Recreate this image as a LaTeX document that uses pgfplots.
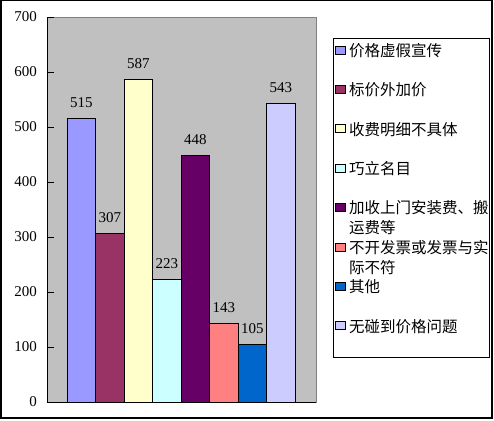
\documentclass[border=0pt]{standalone}
\usepackage{fontspec}
\setmainfont{Liberation Serif}
\newfontfamily\cjk{Noto Sans CJK SC}
\usepackage{pgfplots}
\pgfplotsset{compat=1.18}

\definecolor{plotgray}{HTML}{C0C0C0}
\definecolor{plotborder}{HTML}{808080}
\definecolor{c1}{HTML}{9999FF}
\definecolor{c2}{HTML}{993366}
\definecolor{c3}{HTML}{FFFFCC}
\definecolor{c4}{HTML}{CCFFFF}
\definecolor{c5}{HTML}{660066}
\definecolor{c6}{HTML}{FF8080}
\definecolor{c7}{HTML}{0066CC}
\definecolor{c8}{HTML}{CCCCFF}

\pgfplotsset{
  onebar/.style={ybar, bar width=1, bar shift=0pt, draw=black, line width=0.8pt,
    legend image code/.code={\path (0pt,0pt) (14.5pt,0pt);
      \draw[##1] (1pt,6pt) rectangle (11pt,14pt);}},
}

\begin{document}
\begin{tikzpicture}
\useasboundingbox (0,0) rectangle (494pt,420pt);
\draw[line width=1.3pt] (1pt,2pt) rectangle (492pt,419.5pt);
\begin{axis}[
  at={(47pt,18pt)}, anchor=south west,
  scale only axis, width=269pt, height=385pt,
  xmin=-0.71, xmax=8.73, ymin=0, ymax=700,
  axis lines*=left,
  axis line style={black, line width=0.8pt},
  axis background/.style={fill=plotgray, draw=plotborder, line width=0.8pt},
  xtick=\empty, ytick={0,100,...,700},
  tick align=inside, major tick length=7pt,
  tick style={black, line width=0.8pt},
  /pgf/number format/assume math mode=true,
  tick label style={font=\fontsize{15}{18}\selectfont},
  yticklabel style={xshift=-6.5pt},
  nodes near coords,
  every node near coord/.append style={font=\fontsize{15}{18}\selectfont, yshift=7pt},
  legend cell align=left,
  legend style={at={(1.0632,0.9455)}, anchor=north west, draw=black,
    line width=0.8pt, inner xsep=0.5pt, inner ysep=2pt, row sep=0pt,
    column sep=0pt, font=\cjk\fontsize{15.5}{19.7}\selectfont,
    nodes={inner sep=0pt, text width=140pt, align=left,
      text height=16pt, text depth=23.4pt}},
]
\addplot[onebar, fill=c1] coordinates {(0.5,515)};
\addlegendentry{价格虚假宣传}
\addplot[onebar, fill=c2] coordinates {(1.5,307)};
\addlegendentry{标价外加价}
\addplot[onebar, fill=c3] coordinates {(2.5,587)};
\addlegendentry{收费明细不具体}
\addplot[onebar, fill=c4] coordinates {(3.5,223)};
\addlegendentry{巧立名目}
\addplot[onebar, fill=c5] coordinates {(4.5,448)};
\addlegendentry{加收上门安装费、搬\\运费等}
\addplot[onebar, fill=c6] coordinates {(5.5,143)};
\addlegendentry{不开发票或发票与实\\际不符}
\addplot[onebar, fill=c7] coordinates {(6.5,105)};
\addlegendentry{其他}
\addplot[onebar, fill=c8] coordinates {(7.5,543)};
\addlegendentry{无碰到价格问题}
\end{axis}
\end{tikzpicture}
\end{document}
